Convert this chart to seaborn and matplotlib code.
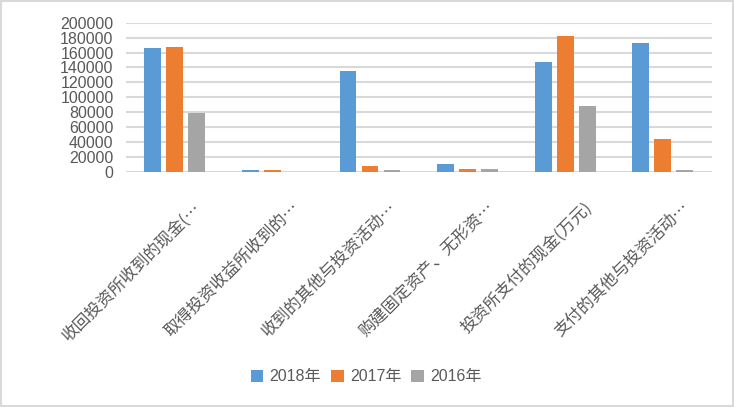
import matplotlib
matplotlib.use("Agg")
import matplotlib.pyplot as plt
import matplotlib.transforms as mtransforms
import seaborn as sns
import pandas as pd

categories = ["收回投资所收到的现金(…", "取得投资收益所收到的…", "收到的其他与投资活动…",
              "购建固定资产、无形资…", "投资所支付的现金(万元)", "支付的其他与投资活动…"]
series_names = ["2018年", "2017年", "2016年"]
v2018 = [166000, 3000, 135600, 10700, 147600, 173200]
v2017 = [167400, 2600, 8000, 3800, 182500, 44300]
v2016 = [78800, 0, 2500, 3800, 88600, 2500]
yticks = [0, 20000, 40000, 60000, 80000, 100000, 120000, 140000, 160000, 180000, 200000]
colors = ["#5B9BD5", "#ED7D31", "#A5A5A5"]

rows = []
for name, vals in zip(series_names, [v2018, v2017, v2016]):
    for c, v in zip(categories, vals):
        rows.append({"cat": c, "series": name, "value": v})
df = pd.DataFrame(rows)

sns.set_theme(style="white")
plt.rcParams['font.family'] = ['Liberation Sans', 'Noto Sans CJK SC', 'DejaVu Sans']

fig = plt.figure(figsize=(7.34, 4.07), dpi=100)
ax = fig.add_axes([126/734, 1-172/407, (711.6-126)/734, (172-22.7)/407])

sns.barplot(data=df, x="cat", y="value", hue="series", order=categories,
            hue_order=series_names, palette=colors, width=0.675, gap=0.23,
            saturation=1, linewidth=0, ax=ax)
for p in ax.patches:
    p.set_zorder(3)

ax.set_ylim(0, 200000)
ax.set_xlim(-0.5, 5.5)
ax.set_yticks(yticks)
ax.set_yticklabels([str(t) for t in yticks], fontsize=11.5, color="#595959")
ax.yaxis.grid(True, color="#D9D9D9", linewidth=1.5, zorder=0)
ax.set_axisbelow(True)
for s in ax.spines.values():
    s.set_visible(False)
ax.tick_params(axis='both', length=0)
ax.tick_params(axis='y', pad=9)
ax.set_xlabel("")
ax.set_ylabel("")

ax.set_xticks(range(len(categories)))
ax.set_xticklabels(categories, rotation=45, ha='right', va='center',
                   rotation_mode='anchor', fontsize=12, color="#595959",
                   family=['Noto Sans CJK SC', 'DejaVu Sans'])
offset = mtransforms.ScaledTranslation(24/100, -28/100, fig.dpi_scale_trans)
for lbl in ax.get_xticklabels():
    lbl.set_transform(lbl.get_transform() + offset)

ax.legend(loc='center', bbox_to_anchor=(366/734, 1-377/407), bbox_transform=fig.transFigure,
          ncol=3, frameon=False, fontsize=11.5, handlelength=0.8, handleheight=0.8,
          handletextpad=0.4, columnspacing=0.6, labelcolor="#595959")

fig.patches.append(plt.Rectangle((0.001, 0.002), 0.997, 0.995, transform=fig.transFigure,
                                 fill=False, edgecolor="#D9D9D9", linewidth=1.5))
fig.savefig("out.png", dpi=100)
